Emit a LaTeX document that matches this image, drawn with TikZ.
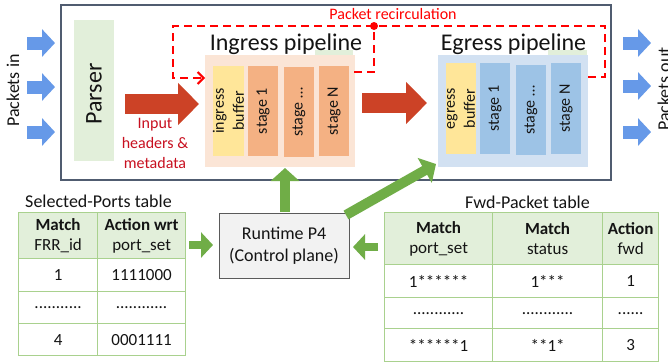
\documentclass[tikz,border=0pt]{standalone}
\usepackage{fontspec}
\setmainfont{Carlito}
\usetikzlibrary{arrows.meta}
\definecolor{frame}{RGB}{80,92,112}
\definecolor{parsergreen}{RGB}{226,239,218}
\definecolor{peach}{RGB}{251,229,214}
\definecolor{bufyellow}{RGB}{255,230,153}
\definecolor{stageorange}{RGB}{244,177,131}
\definecolor{egbg}{RGB}{210,225,242}
\definecolor{stageblue}{RGB}{157,195,230}
\definecolor{pktblue}{RGB}{102,153,232}
\definecolor{bigred}{RGB}{204,66,38}
\definecolor{txtred}{RGB}{200,16,32}
\definecolor{dashred}{RGB}{255,0,0}
\definecolor{ctrlgreen}{RGB}{112,173,71}
\definecolor{tabline}{RGB}{169,209,142}
\definecolor{tabhead}{RGB}{226,239,218}
\definecolor{rtfill}{RGB}{242,242,242}
\definecolor{rtline}{RGB}{90,90,90}
\definecolor{ink}{RGB}{20,20,20}
\begin{document}
\begin{tikzpicture}[x=1pt,y=-1pt,
  every node/.style={text=ink, inner sep=0pt},
  bigfont/.style={font=\fontsize{24}{28}\selectfont},
  midfont/.style={font=\fontsize{18}{22}\selectfont},
  smallfont/.style={font=\fontsize{16}{20}\selectfont},
  tabfont/.style={font=\fontsize{17}{20}\selectfont},
  block/.style={rectangle, inner sep=0pt},
  vstage/.style={rectangle, rotate=90, align=center, inner sep=0pt, smallfont},
  pktarrow/.style={draw=pktblue, line width=13pt, -{Triangle[width=27pt,length=13pt]}},
  bigarrow/.style={draw=bigred, line width=20pt, -{Triangle[width=41pt,length=21pt]}},
  ctrlarrow/.style={draw=ctrlgreen, line width=10pt, -{Triangle[width=28pt,length=13pt]}},
  ctrlarrowsm/.style={draw=ctrlgreen, line width=8pt, -{Triangle[width=25pt,length=12pt]}},
  recirc/.style={draw=dashred, line width=2pt, dash pattern=on 8pt off 5pt},
  cell/.style={rectangle, draw=tabline, line width=1.2pt, anchor=north west, align=center, inner sep=0pt, tabfont},
  hcell/.style={cell, fill=tabhead}
]
\path[use as bounding box, fill=white] (0,0) rectangle (668,362);

% main frame
\node[block, draw=frame, line width=1.5pt, minimum width=550pt, minimum height=175pt] (frame) at (336,92.5) {};

% parser
\node[block, fill=parsergreen, minimum width=40pt, minimum height=141pt] (parser) at (94,90.5) {};
\node[rotate=90, bigfont] (parsertext) at (94,94) {Parser};

% packets in / out
\node[rotate=90, midfont] (pin) at (13,90.5) {Packets in};
\node[rotate=90, midfont] (pout) at (664,89) {Packets out};
\coordinate (in1s) at (27,43);  \coordinate (in1e) at (55,43);
\coordinate (in2s) at (27,87);  \coordinate (in2e) at (55,87);
\coordinate (in3s) at (27,132); \coordinate (in3e) at (55,132);
\draw[pktarrow] (in1s) -- (in1e);
\draw[pktarrow] (in2s) -- (in2e);
\draw[pktarrow] (in3s) -- (in3e);
\coordinate (out1s) at (623,43);  \coordinate (out1e) at (651,43);
\coordinate (out2s) at (623,86);  \coordinate (out2e) at (651,86);
\coordinate (out3s) at (623,132); \coordinate (out3e) at (651,132);
\draw[pktarrow] (out1s) -- (out1e);
\draw[pktarrow] (out2s) -- (out2e);
\draw[pktarrow] (out3s) -- (out3e);

% small green strips
\node[block, fill=parsergreen, minimum width=38pt, minimum height=6pt] (gs1) at (334,52.5) {};
\node[block, fill=parsergreen, minimum width=39pt, minimum height=6pt] (gs2) at (567.5,52.5) {};

% ingress pipeline
\node[bigfont] (ingtitle) at (286,44) {Ingress pipeline};
\node[block, fill=peach, minimum width=150pt, minimum height=112pt] (ingress) at (280,111) {};
\node[vstage, fill=bufyellow, minimum width=90pt, minimum height=31pt] (ibuf) at (228.5,111) {ingress\\buffer};
\node[vstage, fill=stageorange, minimum width=90pt, minimum height=30pt] (is1) at (263,111) {stage 1};
\node[vstage, fill=stageorange, minimum width=90pt, minimum height=30pt] (is2) at (299,112) {stage \dots};
\node[vstage, fill=stageorange, minimum width=90pt, minimum height=30pt] (isn) at (334,111) {stage N};

% egress pipeline
\node[bigfont] (egtitle) at (513.5,44) {Egress pipeline};
\node[block, fill=egbg, minimum width=150pt, minimum height=112pt] (egress) at (513,111) {};
\node[vstage, fill=bufyellow, minimum width=91pt, minimum height=30pt] (ebuf) at (461,108.5) {egress\\buffer};
\node[vstage, fill=stageblue, minimum width=91pt, minimum height=30pt] (es1) at (495,108.5) {stage 1};
\node[vstage, fill=stageblue, minimum width=90pt, minimum height=30pt] (es2) at (531,110) {stage \dots};
\node[vstage, fill=stageblue, minimum width=91pt, minimum height=30pt] (esn) at (566,108.5) {stage N};

% red data-path arrows
\coordinate (pa) at (125,104); \coordinate (pb) at (199,104);
\draw[bigarrow] (pa) -- (pb);
\coordinate (ma) at (362,103); \coordinate (mb) at (427,103);
\draw[bigarrow] (ma) -- (mb);
\node[smallfont, text=txtred, align=center] (inhdr) at (155,143) {Input\\headers \&\\metadata};

% recirculation
\node[smallfont, text=dashred] (rectext) at (393,14) {Packet recirculation};
\node[circle, fill=dashred, minimum size=8pt] (dot) at (374,26) {};
\coordinate (egout) at (588,77);
\coordinate (rcA) at (605,77);
\coordinate (rcB) at (605,26);
\coordinate (rcC) at (173,26);
\coordinate (rcD) at (173,78);
\coordinate (ingin) at (205,78);
\draw[recirc, -{Straight Barb[length=6pt,width=12pt]}] (egout) -- (rcA) -- (rcB) -- (rcC) -- (rcD) -- (ingin);
\coordinate (ingout) at (354,72);
\coordinate (rcE) at (374,72);
\draw[recirc] (ingout) -- (rcE) -- (dot);

% control plane
\node[block, draw=rtline, line width=1pt, fill=rtfill, minimum width=130pt, minimum height=65pt, align=center, midfont] (rt) at (284,245.5) {Runtime P4\\(Control plane)};
\coordinate (rtup) at (285,212);
\coordinate (ingbot) at (285,168);
\draw[ctrlarrow] (rtup) -- (ingbot);
\coordinate (rtne) at (346,215);
\coordinate (egsw) at (436,164);
\draw[ctrlarrow] (rtne) -- (egsw);
\coordinate (spout) at (189,245); \coordinate (rtin1) at (213,245);
\draw[ctrlarrowsm] (spout) -- (rtin1);
\coordinate (fpout) at (378,247); \coordinate (rtin2) at (353,247);
\draw[ctrlarrowsm] (fpout) -- (rtin2);

% Selected-Ports table
\node[midfont] (sptitle) at (98.5,201) {Selected-Ports table};
\node[hcell, minimum width=79pt, minimum height=46pt] (s11) at (18,212) {\textbf{Match}\\FRR\_id};
\node[hcell, minimum width=88pt, minimum height=46pt] (s12) at (97,212) {\textbf{Action wrt}\\port\_set};
\node[cell, minimum width=79pt, minimum height=33pt] (s21) at (18,258) {1};
\node[cell, minimum width=88pt, minimum height=33pt] (s22) at (97,258) {1111000};
\node[cell, minimum width=79pt, minimum height=32pt] (s31) at (18,291) {...........};
\node[cell, minimum width=88pt, minimum height=32pt] (s32) at (97,291) {............};
\node[cell, minimum width=79pt, minimum height=32pt] (s41) at (18,323) {4};
\node[cell, minimum width=88pt, minimum height=32pt] (s42) at (97,323) {0001111};

% Fwd-Packet table
\node[midfont] (fptitle) at (527.5,202) {Fwd-Packet table};
\node[hcell, minimum width=108pt, minimum height=52pt] (f11) at (384,212) {\textbf{Match}\\port\_set};
\node[hcell, minimum width=110pt, minimum height=52pt] (f12) at (492,212) {\textbf{Match}\\status};
\node[hcell, minimum width=56pt, minimum height=52pt] (f13) at (602,212) {\textbf{Action}\\fwd};
\node[cell, minimum width=108pt, minimum height=33pt] (f21) at (384,264) {1******};
\node[cell, minimum width=110pt, minimum height=33pt] (f22) at (492,264) {1***};
\node[cell, minimum width=56pt, minimum height=33pt] (f23) at (602,264) {1};
\node[cell, minimum width=108pt, minimum height=31pt] (f31) at (384,297) {............};
\node[cell, minimum width=110pt, minimum height=31pt] (f32) at (492,297) {............};
\node[cell, minimum width=56pt, minimum height=31pt] (f33) at (602,297) {......};
\node[cell, minimum width=108pt, minimum height=33pt] (f41) at (384,328) {******1};
\node[cell, minimum width=110pt, minimum height=33pt] (f42) at (492,328) {**1*};
\node[cell, minimum width=56pt, minimum height=33pt] (f43) at (602,328) {3};
\end{tikzpicture}
\end{document}
